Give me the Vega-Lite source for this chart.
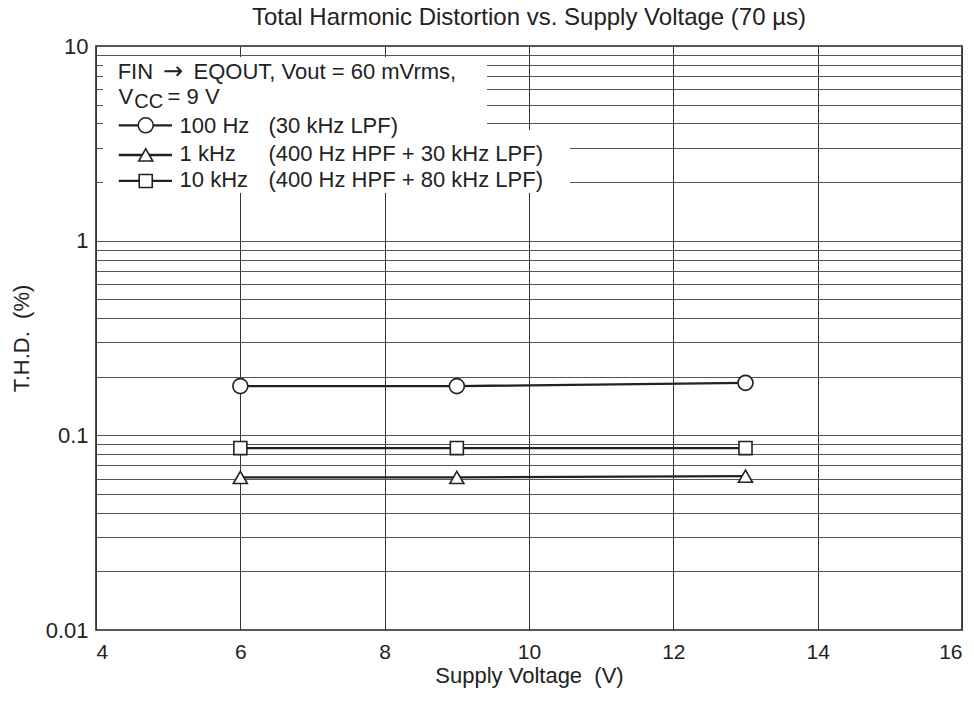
{
  "$schema": "https://vega.github.io/schema/vega-lite/v6.json",
  "autosize": "none",
  "width": 866,
  "height": 584,
  "padding": {"left": 96, "top": 46, "right": 12, "bottom": 74},
  "background": "white",
  "title": {"text": "Total Harmonic Distortion vs. Supply Voltage (70 µs)", "anchor": "middle", "fontSize": 24, "font": "Liberation Sans", "fontWeight": "normal", "color": "#222", "offset": 5},
  "config": {
    "view": {"stroke": "#222", "strokeWidth": 1.6},
    "font": "Liberation Sans",
    "axis": {"labelFont": "Liberation Sans", "titleFont": "Liberation Sans", "labelFontSize": 22, "titleFontSize": 22, "titleFontWeight": "normal", "labelColor": "#222", "titleColor": "#222", "domain": false, "ticks": false, "tickSize": 0, "grid": true, "gridWidth": 1}
  },
  "datasets": {
    "series": [
      {"series": "100 Hz", "v": 6, "thd": 0.179},
      {"series": "100 Hz", "v": 9, "thd": 0.179},
      {"series": "100 Hz", "v": 13, "thd": 0.186},
      {"series": "1 kHz", "v": 6, "thd": 0.0608},
      {"series": "1 kHz", "v": 9, "thd": 0.0608},
      {"series": "1 kHz", "v": 13, "thd": 0.0617},
      {"series": "10 kHz", "v": 6, "thd": 0.086},
      {"series": "10 kHz", "v": 9, "thd": 0.086},
      {"series": "10 kHz", "v": 13, "thd": 0.086}
    ],
    "legendLines": [
      {"series": "100 Hz", "x": 4.315, "y": 3.914},
      {"series": "100 Hz", "x": 5.053, "y": 3.914},
      {"series": "1 kHz", "x": 4.315, "y": 2.755},
      {"series": "1 kHz", "x": 5.053, "y": 2.755},
      {"series": "10 kHz", "x": 4.315, "y": 2.026},
      {"series": "10 kHz", "x": 5.053, "y": 2.026}
    ],
    "legendPoints": [
      {"series": "100 Hz", "x": 4.689, "y": 3.914},
      {"series": "1 kHz", "x": 4.689, "y": 2.755},
      {"series": "10 kHz", "x": 4.689, "y": 2.026}
    ],
    "boxes": [
      {"x1": 4.097, "x2": 9.418, "y1": 3.7, "y2": 8.78},
      {"x1": 4.097, "x2": 10.568, "y1": 1.758, "y2": 3.7}
    ],
    "texts": [
      {"label": "FIN", "x": 4.30, "y": 7.31},
      {"label": "EQOUT, Vout = 60 mVrms,", "x": 5.352, "y": 7.31},
      {"label": "V", "x": 4.313, "y": 5.49},
      {"label": "= 9 V", "x": 4.992, "y": 5.49},
      {"label": "100 Hz", "x": 5.158, "y": 3.89},
      {"label": "(30 kHz LPF)", "x": 6.39, "y": 3.89},
      {"label": "1 kHz", "x": 5.158, "y": 2.795},
      {"label": "(400 Hz HPF + 30 kHz LPF)", "x": 6.39, "y": 2.795},
      {"label": "10 kHz", "x": 5.158, "y": 2.038},
      {"label": "(400 Hz HPF + 80 kHz LPF)", "x": 6.39, "y": 2.038}
    ],
    "arrows": [
      {"label": "→", "x": 4.93, "y": 7.31}
    ],
    "subs": [
      {"label": "CC", "x": 4.531, "y": 5.49}
    ]
  },
  "layer": [
    {
      "data": {"values": [{"v": 4, "thd": 0.01}]},
      "mark": {"type": "point", "opacity": 0},
      "encoding": {
        "x": {"field": "v", "type": "quantitative", "scale": {"domain": [4, 16], "nice": false, "zero": false},
              "axis": {"values": [4, 6, 8, 10, 12, 14, 16], "format": "d", "title": "Supply Voltage \u00a0(V)", "labelFontSize": 21, "labelPadding": 11, "titlePadding": 3, "gridColor": "#333"}},
        "y": {"field": "thd", "type": "quantitative", "scale": {"type": "log", "domain": [0.01, 10], "nice": false},
              "axis": {"values": [0.01, 0.02, 0.03, 0.04, 0.05, 0.06, 0.07, 0.08, 0.09, 0.1, 0.2, 0.3, 0.4, 0.5, 0.6, 0.7, 0.8, 0.9, 1, 2, 3, 4, 5, 6, 7, 8, 9, 10],
                       "labelExpr": "indexof([0.01, 0.1, 1, 10], datum.value) >= 0 ? format(datum.value, '~g') : ''",
                       "title": "T.H.D. \u00a0(%)", "labelPadding": 8, "titlePadding": 12, "gridColor": "#555", "labelOverlap": false}}
      }
    },
    {
      "data": {"name": "boxes"},
      "mark": {"type": "rect", "fill": "white", "stroke": null},
      "encoding": {
        "x": {"field": "x1", "type": "quantitative"},
        "x2": {"field": "x2"},
        "y": {"field": "y1", "type": "quantitative"},
        "y2": {"field": "y2"}
      }
    },
    {
      "data": {"name": "series"},
      "mark": {"type": "line", "color": "#222", "strokeWidth": 2.3},
      "encoding": {
        "x": {"field": "v", "type": "quantitative"},
        "y": {"field": "thd", "type": "quantitative"},
        "detail": {"field": "series"}
      }
    },
    {
      "data": {"name": "series"},
      "mark": {"type": "point", "filled": true, "fill": "white", "stroke": "#222", "strokeWidth": 1.6, "opacity": 1},
      "encoding": {
        "x": {"field": "v", "type": "quantitative"},
        "y": {"field": "thd", "type": "quantitative"},
        "shape": {"field": "series", "type": "nominal", "scale": {"domain": ["100 Hz", "1 kHz", "10 kHz"], "range": ["circle", "triangle-up", "square"]}, "legend": null},
        "size": {"field": "series", "type": "nominal", "scale": {"domain": ["100 Hz", "1 kHz", "10 kHz"], "range": [225, 170, 200]}, "legend": null}
      }
    },
    {
      "data": {"name": "legendLines"},
      "mark": {"type": "line", "color": "#222", "strokeWidth": 2.3},
      "encoding": {
        "x": {"field": "x", "type": "quantitative"},
        "y": {"field": "y", "type": "quantitative"},
        "detail": {"field": "series"}
      }
    },
    {
      "data": {"name": "legendPoints"},
      "mark": {"type": "point", "filled": true, "fill": "white", "stroke": "#222", "strokeWidth": 1.6, "opacity": 1},
      "encoding": {
        "x": {"field": "x", "type": "quantitative"},
        "y": {"field": "y", "type": "quantitative"},
        "shape": {"field": "series", "type": "nominal", "scale": {"domain": ["100 Hz", "1 kHz", "10 kHz"], "range": ["circle", "triangle-up", "square"]}, "legend": null},
        "size": {"field": "series", "type": "nominal", "scale": {"domain": ["100 Hz", "1 kHz", "10 kHz"], "range": [196, 180, 160]}, "legend": null}
      }
    },
    {
      "data": {"name": "texts"},
      "mark": {"type": "text", "align": "left", "baseline": "middle", "fontSize": 22, "font": "Liberation Sans", "color": "#222"},
      "encoding": {
        "x": {"field": "x", "type": "quantitative"},
        "y": {"field": "y", "type": "quantitative"},
        "text": {"field": "label"}
      }
    },
    {
      "data": {"name": "arrows"},
      "mark": {"type": "text", "align": "left", "baseline": "middle", "fontSize": 24, "font": "DejaVu Sans", "color": "#222"},
      "encoding": {
        "x": {"field": "x", "type": "quantitative"},
        "y": {"field": "y", "type": "quantitative"},
        "text": {"field": "label"}
      }
    },
    {
      "data": {"name": "subs"},
      "mark": {"type": "text", "align": "left", "baseline": "middle", "fontSize": 20, "font": "Liberation Sans", "color": "#222", "dy": 5},
      "encoding": {
        "x": {"field": "x", "type": "quantitative"},
        "y": {"field": "y", "type": "quantitative"},
        "text": {"field": "label"}
      }
    }
  ]
}
